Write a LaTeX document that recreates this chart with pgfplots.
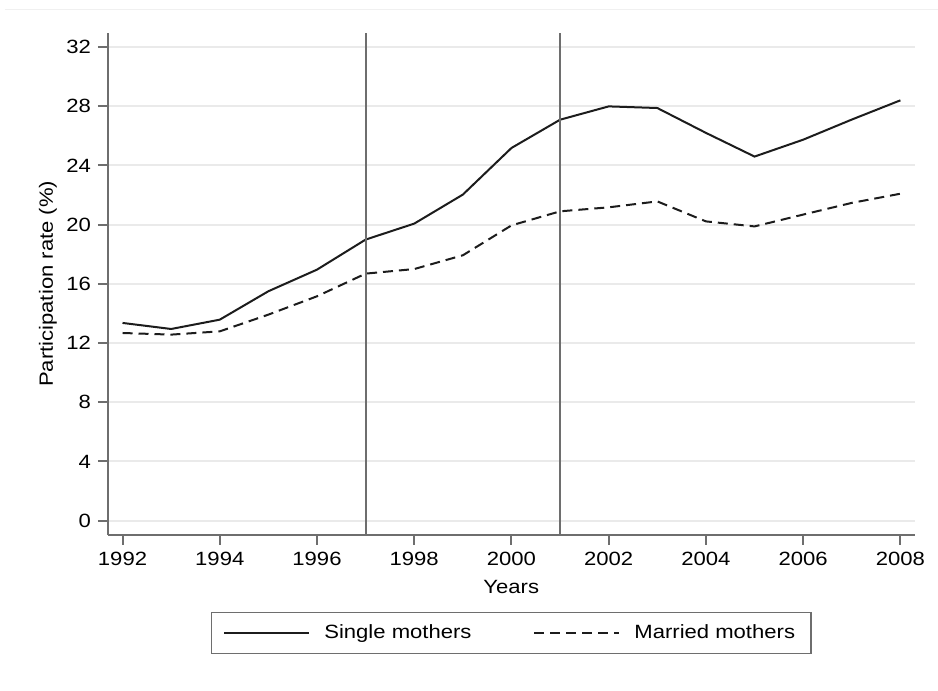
\documentclass[border=0pt]{standalone}
\usepackage{fontspec}
\setmainfont{Liberation Sans}[FakeStretch=1.15]
\usepackage{pgfplots}
\pgfplotsset{compat=1.18}
\definecolor{dataline}{HTML}{1C1C1C}
\definecolor{axline}{HTML}{6E6E6E}
\definecolor{gridc}{HTML}{EAEAEA}
\newcommand\f{\fontsize{9.6}{11.5}\selectfont}
\begin{document}
\begin{tikzpicture}
\begin{axis}[
  name=ax,
  scale only axis,
  width=403.5pt, height=251pt,
  xmin=1991.70, xmax=2008.29,
  ymin=-0.95, ymax=32.95,
  xtick={1992,1994,...,2008},
  ytick={0,4,...,32},
  axis x line*=bottom, axis y line*=left,
  axis line style={color=axline, line width=1pt, -},
  tick align=outside,
  major tick length=5pt,
  tick style={color=axline, line width=1pt},
  ymajorgrids,
  y grid style={gridc, line width=1pt},
  /pgf/number format/assume math mode=true,
  /pgf/number format/1000 sep={},
  tick label style={font=\f, text=black},
  xlabel={Years}, ylabel={Participation rate (\%)},
  label style={font=\f},
  xlabel style={at={(axis description cs:0.5,0)}, anchor=center, yshift=-26pt},
  ylabel style={at={(axis description cs:-0.0745,0.5)}, anchor=center, rotate=0},
  legend columns=2,
  legend style={at={(axis description cs:0.5,0)}, anchor=north, yshift=-38.5pt,
    draw=axline, line width=0.75pt, font=\f, inner xsep=6pt, inner ysep=4pt,
    /tikz/every odd column/.append style={column sep=5pt},
    /tikz/every even column/.append style={column sep=29pt}},
  legend image code/.code={\draw[#1] (0pt,0pt) -- (42.5pt,0pt);},
  clip=false,
]
\addplot[dataline, line width=1pt] coordinates {
 (1992,13.36) (1993,12.95) (1994,13.58) (1995,15.50) (1996,16.96) (1997,18.99)
 (1998,20.07) (1999,22.03) (2000,25.18) (2001,27.09) (2002,27.99) (2003,27.88)
 (2004,26.20) (2005,24.60) (2006,25.74) (2007,27.10) (2008,28.40)};
\addlegendentry{Single mothers}
\addplot[dataline, line width=1pt, dash pattern=on 5pt off 3pt] coordinates {
 (1992,12.68) (1993,12.57) (1994,12.79) (1995,13.92) (1996,15.16) (1997,16.69)
 (1998,17.00) (1999,17.93) (2000,19.95) (2001,20.90) (2002,21.17) (2003,21.57)
 (2004,20.22) (2005,19.88) (2006,20.68) (2007,21.47) (2008,22.09)};
\addlegendentry{Married mothers}
\addplot[axline, line width=1pt, forget plot] coordinates {(1997,-0.95) (1997,32.95)};
\addplot[axline, line width=1pt, forget plot] coordinates {(2001,-0.95) (2001,32.95)};
\end{axis}
\draw[gridc!70, line width=0.5pt] ([shift={(-51.5pt,262.5pt)}]ax.south west) -- ([shift={(415pt,262.5pt)}]ax.south west);
\path[use as bounding box] ([shift={(-54pt,-78pt)}]ax.south west) rectangle ([shift={(415pt,267.5pt)}]ax.south west);
\end{tikzpicture}
\end{document}
